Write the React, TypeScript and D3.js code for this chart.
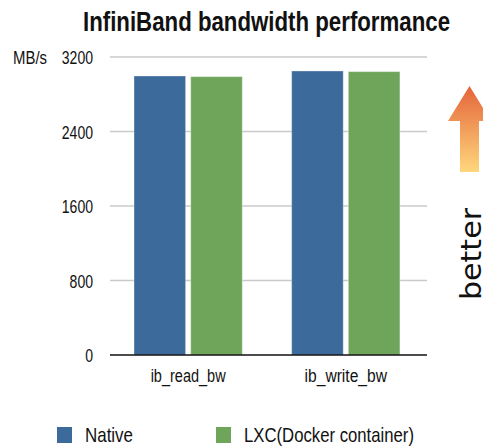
import { useMemo } from "react";
import * as d3 from "d3";

const WIDTH = 483;
const HEIGHT = 446;

const TITLE = "InfiniBand bandwidth performance";
const UNIT = "MB/s";
const groups = ["ib_read_bw", "ib_write_bw"];
const seriesNames = ["Native", "LXC(Docker container)"];
const nativeValues = [2996, 3050];
const lxcValues = [2989, 3043];
const yTicks = [0, 800, 1600, 2400, 3200];
const COLORS = ["#3c6a9b", "#6ea55a"];

const NARROW = "'Liberation Sans Narrow', 'Arial Narrow', 'Liberation Sans', Arial, sans-serif";

const PLOT = { left: 110, right: 427, top: 57, bottom: 355 };

export default function App() {
  const yScale = useMemo(
    () => d3.scaleLinear().domain([0, 3200]).range([PLOT.bottom, PLOT.top]),
    []
  );
  const x0Scale = useMemo(
    () =>
      d3
        .scaleBand()
        .domain(groups)
        .range([PLOT.left, PLOT.right])
        .paddingInner(0.313)
        .paddingOuter(0.162)
        .align(0.47),
    []
  );
  const x1Scale = useMemo(
    () =>
      d3
        .scaleBand()
        .domain(seriesNames)
        .range([0, x0Scale.bandwidth()])
        .paddingInner(0.09),
    [x0Scale]
  );
  const colorScale = d3.scaleOrdinal<string, string>().domain(seriesNames).range(COLORS);

  const data = groups.map((g, i) => ({
    name: g,
    values: [
      { label: seriesNames[0], value: nativeValues[i] },
      { label: seriesNames[1], value: lxcValues[i] },
    ],
  }));

  // grid + tick labels
  const grid = yTicks.map((t) => (
    <g key={t}>
      {t > 0 && (
        <line
          x1={PLOT.left}
          x2={PLOT.right}
          y1={yScale(t)}
          y2={yScale(t)}
          stroke="#cacaca"
          strokeWidth={1.5}
        />
      )}
      <text
        x={93}
        y={yScale(t) + 2}
        textAnchor="end"
        dominantBaseline="middle"
        fontFamily={NARROW}
        fontSize={19}
        fill="#111"
        textLength={String(t).length * 7.8}
        lengthAdjust="spacingAndGlyphs"
      >
        {t}
      </text>
    </g>
  ));

  const bars = data.map((d) => {
    const x0 = x0Scale(d.name) ?? 0;
    return (
      <g key={d.name} transform={`translate(${x0},0)`}>
        {d.values.map((v) => (
          <rect
            key={v.label}
            x={x1Scale(v.label)}
            y={yScale(v.value)}
            width={x1Scale.bandwidth()}
            height={yScale(0) - yScale(v.value)}
            fill={colorScale(v.label)}
            stroke="#ffffff"
            strokeOpacity={0.35}
            strokeWidth={1}
          />
        ))}
        <text
          x={x0Scale.bandwidth() / 2}
          y={382}
          textAnchor="middle"
          fontFamily={NARROW}
          fontSize={17.5}
          fill="#111"
          textLength={d.name.length * 7.5}
          lengthAdjust="spacingAndGlyphs"
        >
          {d.name}
        </text>
      </g>
    );
  });

  const legendX = [57, 216];
  const legendTextW = [48, 170];

  return (
    <svg
      width={WIDTH}
      height={HEIGHT}
      style={{ position: "absolute", left: 0, top: 0, background: "#fff" }}
    >
      <defs>
        <linearGradient id="arrowGrad" x1="0" y1="0" x2="0" y2="1">
          <stop offset="0%" stopColor="#e4643a" />
          <stop offset="100%" stopColor="#ffd77c" />
        </linearGradient>
      </defs>

      <text
        x={266.5}
        y={31}
        textAnchor="middle"
        fontFamily={NARROW}
        fontWeight="bold"
        fontSize={27.5}
        fill="#111"
        textLength={367}
        lengthAdjust="spacingAndGlyphs"
      >
        {TITLE}
      </text>

      <text
        x={13}
        y={yScale(3200) + 2}
        dominantBaseline="middle"
        fontFamily={NARROW}
        fontSize={19}
        fill="#111"
        textLength={34}
        lengthAdjust="spacingAndGlyphs"
      >
        {UNIT}
      </text>

      {grid}
      {bars}

      <line
        x1={PLOT.left}
        x2={PLOT.right}
        y1={yScale(0)}
        y2={yScale(0)}
        stroke="#111"
        strokeWidth={1.5}
      />

      {/* better arrow */}
      <polygon
        points="469.5,86 491,121 479,121 479,172 460,172 460,121 448,121"
        fill="url(#arrowGrad)"
      />
      <text
        transform="translate(481,254) rotate(-90)"
        textAnchor="middle"
        fontFamily="'DejaVu Sans', Verdana, sans-serif"
        fontSize={28}
        fill="#111"
        textLength={92}
        lengthAdjust="spacingAndGlyphs"
      >
        better
      </text>

      {/* legend */}
      {seriesNames.map((s, i) => (
        <g key={s}>
          <rect x={legendX[i]} y={427} width={15} height={16} fill={colorScale(s)} />
          <text
            x={legendX[i] + 28}
            y={442}
            fontFamily={NARROW}
            fontSize={21}
            fill="#111"
            textLength={legendTextW[i]}
            lengthAdjust="spacingAndGlyphs"
          >
            {s}
          </text>
        </g>
      ))}
    </svg>
  );
}
